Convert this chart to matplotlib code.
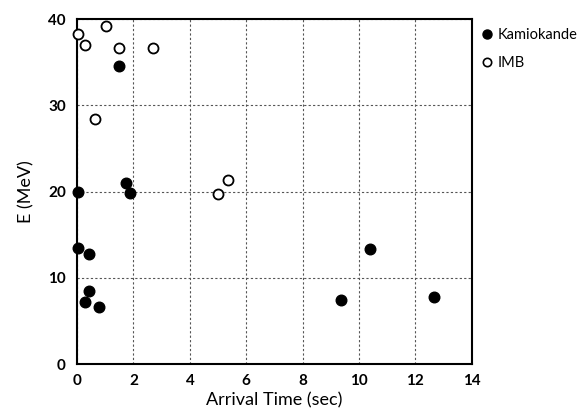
import matplotlib.pyplot as plt
from matplotlib.lines import Line2D

plt.rcParams["font.family"] = ["Lato", "DejaVu Sans"]

# Kamiokande events (filled)
kam_t = [0.05, 0.05, 0.27, 0.42, 0.42, 0.76, 1.48, 1.75, 1.87, 9.35, 10.39, 12.65]
kam_e = [20.0, 13.5, 7.2, 8.5, 12.8, 6.6, 34.6, 21.0, 19.8, 7.4, 13.4, 7.8]

# IMB events (open)
imb_t = [0.05, 0.28, 0.64, 1.04, 1.5, 2.68, 5.0, 5.36]
imb_e = [38.3, 37.0, 28.4, 39.2, 36.7, 36.7, 19.7, 21.3]

x_ticks = [0, 2, 4, 6, 8, 10, 12, 14]
y_ticks = [0, 10, 20, 30, 40]

fig = plt.figure(figsize=(5.84, 4.17), dpi=100)
ax = fig.add_axes([0.132, 0.127, 0.676, 0.827])

ax.scatter(kam_t, kam_e, s=58, color="black", zorder=3, clip_on=False)
ax.scatter(imb_t, imb_e, s=52, facecolor="white", edgecolor="black",
           linewidth=1.3, zorder=3, clip_on=False)

ax.set_xlim(0, 14)
ax.set_ylim(0, 40)
ax.set_xticks(x_ticks)
ax.set_yticks(y_ticks)
ax.tick_params(length=0, labelsize=11)
ax.tick_params(axis="x", pad=7)
ax.tick_params(axis="y", pad=8)
for lbl in ax.get_xticklabels() + ax.get_yticklabels():
    lbl.set_fontweight("bold")
ax.grid(True, color="#555555", linestyle=(0, (2, 2)), linewidth=0.8)
ax.set_axisbelow(True)
for sp in ax.spines.values():
    sp.set_linewidth(1.5)

ax.set_xlabel("Arrival Time (sec)", fontsize=13, labelpad=3)
ax.set_ylabel("E (MeV)", fontsize=13, labelpad=10)

handles = [
    Line2D([], [], marker="o", linestyle="none", markersize=6.5,
           markerfacecolor="black", markeredgecolor="black"),
    Line2D([], [], marker="o", linestyle="none", markersize=6,
           markerfacecolor="white", markeredgecolor="black", markeredgewidth=1.2),
]
fig.legend(handles, ["Kamiokande", "IMB"], loc="upper left",
           bbox_to_anchor=(0.80, 0.965), frameon=False, fontsize=10.5,
           handletextpad=0.3, labelspacing=1.0, handlelength=0.9)

fig.savefig("out.png", dpi=100)
